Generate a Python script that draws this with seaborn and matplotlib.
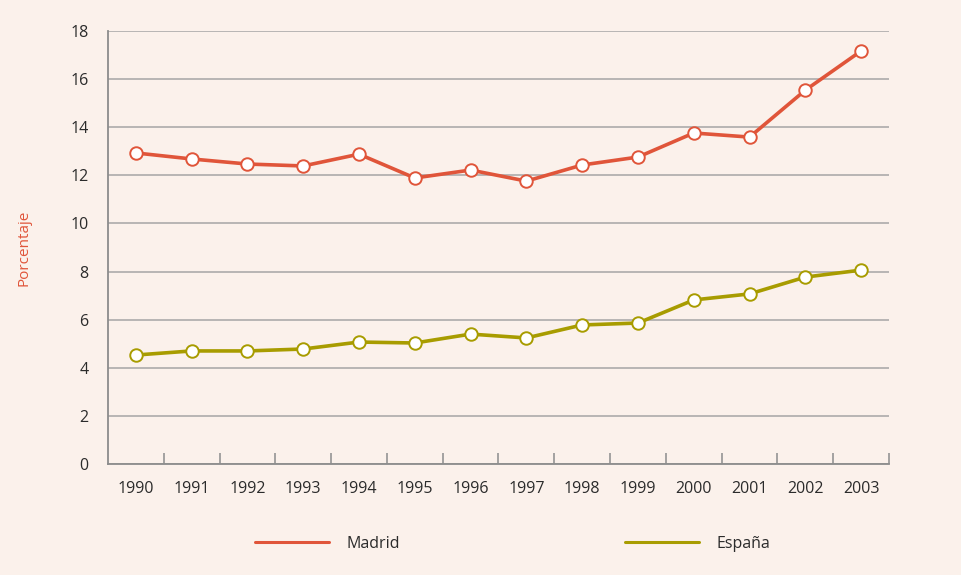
import numpy as np
import pandas as pd
import matplotlib
matplotlib.use('Agg')
import matplotlib.pyplot as plt
import seaborn as sns
from matplotlib.lines import Line2D

# Data
years = ['1990', '1991', '1992', '1993', '1994', '1995', '1996',
         '1997', '1998', '1999', '2000', '2001', '2002', '2003']
madrid = [12.93, 12.68, 12.47, 12.39, 12.88, 11.89, 12.22,
          11.76, 12.43, 12.76, 13.76, 13.59, 15.54, 17.17]
espana = [4.53, 4.70, 4.70, 4.78, 5.07, 5.03, 5.40,
          5.24, 5.78, 5.86, 6.82, 7.07, 7.77, 8.06]
series_names = ['Madrid', 'España']
colors = {'Madrid': '#e0553a', 'España': '#a89c00'}

df = pd.DataFrame({
    'idx': list(range(len(years))) * 2,
    'valor': madrid + espana,
    'serie': ['Madrid'] * len(years) + ['España'] * len(years),
})

sns.set_style('white')
plt.rcParams['font.family'] = ['Open Sans', 'DejaVu Sans']

bg = '#fbf1eb'
fig = plt.figure(figsize=(9.62, 5.75), dpi=100, facecolor=bg)
ax = fig.add_axes([108 / 962, 1 - 464 / 575, (889 - 108) / 962, (464 - 31) / 575])
ax.set_facecolor('none')

for name in series_names:
    sub = df[df['serie'] == name]
    sns.lineplot(data=sub, x='idx', y='valor', ax=ax, color=colors[name],
                 linewidth=2.6, marker='o', markersize=9,
                 markerfacecolor='white', markeredgecolor=colors[name],
                 markeredgewidth=1.4, legend=False, zorder=3)

ax.set_xlim(-0.5, len(years) - 0.5)
ax.set_ylim(0, 18)
ax.set_yticks(np.arange(0, 19, 2))
ax.set_yticklabels([str(v) for v in range(0, 19, 2)])
ax.set_xticks(range(len(years)))
ax.set_xticklabels(years)
ax.set_xticks(np.arange(0.5, len(years), 1), minor=True)

ax.yaxis.grid(True, color='#a5a5a5', linewidth=1.1)
ax.set_axisbelow(True)
for s in ['top', 'right']:
    ax.spines[s].set_visible(False)
for s in ['left', 'bottom']:
    ax.spines[s].set_color('#8c8c8c')
    ax.spines[s].set_linewidth(1.3)

ax.tick_params(axis='x', which='major', bottom=True, length=0, pad=12,
               labelsize=11.5, colors='#2b2b2b')
ax.tick_params(axis='x', which='minor', bottom=True, direction='in',
               length=8, width=1.1, color='#8c8c8c')
ax.tick_params(axis='y', length=0, pad=14, labelsize=11.5, colors='#2b2b2b')

ax.set_xlabel('')
ax.set_ylabel('Porcentaje', color='#e0553a', fontsize=11, labelpad=28)

handles = [Line2D([0], [0], color=colors[n], linewidth=2.2) for n in series_names]
fig.legend(handles, series_names, loc='center', bbox_to_anchor=(0.533, 1 - 544 / 575),
           ncol=2, frameon=False, handlelength=4.6, handletextpad=1.1,
           columnspacing=14.1, fontsize=11.5, labelcolor='#2b2b2b')

fig.savefig('out.png', dpi=100, facecolor=bg)
